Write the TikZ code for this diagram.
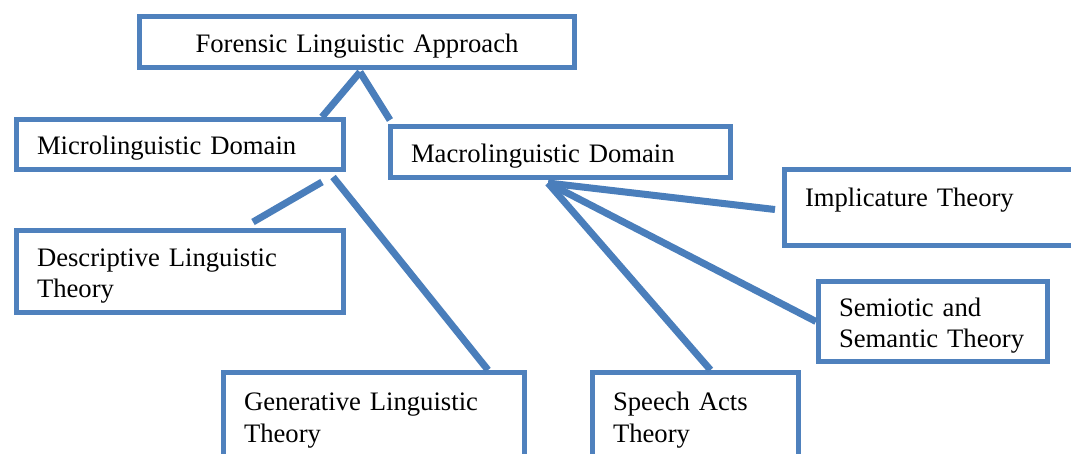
\documentclass[tikz,border=0pt]{standalone}
\usepackage{fontspec}
\setmainfont{Liberation Serif}
\usepackage{tikz}
\usetikzlibrary{positioning, calc}
\definecolor{boxcolor}{RGB}{79,129,189}
\definecolor{linkcolor}{RGB}{74,126,187}
\newcommand{\pxu}{0.45pt}

\begin{document}
\begin{tikzpicture}[
    x=0.45pt, y=-0.45pt,
    box/.style 2 args={draw=boxcolor, line width=5*\pxu, fill=white, anchor=north west,
        minimum width=#1*\pxu, minimum height=#2*\pxu, text width=(#1-41)*\pxu,
        text height=12pt, align=left, font=\fontsize{12}{14}\selectfont},
    link/.style={draw=linkcolor, line width=7*\pxu}
]
    \clip (0,0) rectangle (1071,453);

    \node[box={435}{51}, align=center] (fla) at (137,14) {Forensic Linguistic Approach};
    \node[box={327}{50}] (micro) at (14,117) {Microlinguistic Domain};
    \node[box={340}{51}] (macro) at (388,124) {Macrolinguistic Domain};
    \node[box={327}{82}] (desc) at (14,228) {Descriptive Linguistic\\Theory};
    \node[box={301}{87}] (gen) at (221,370) {Generative Linguistic\\Theory};
    \node[box={206}{87}] (speech) at (590,370) {Speech Acts\\Theory};
    \node[box={291}{76}, text depth=13pt] (impl) at (782,167) {Implicature Theory};
    \node[box={229}{80}] (semi) at (816,279) {Semiotic and\\Semantic Theory};

    \draw[link] ($(fla.south)+(3,2)$) -- ($(micro.north east)+(-24,0)$);
    \draw[link] ($(fla.south)+(3,2)$) -- ($(macro.north west)+(2,-4)$);
    \draw[link] ($(micro.south east)+(-24,10)$) -- ($(desc.north east)+(-93,-6)$);
    \draw[link] ($(micro.south east)+(-13,5)$) -- ($(gen.north east)+(-39,0)$);
    \draw[link] ($(macro.south west)+(160,3)$) -- ($(impl.west)+(-7,2)$);
    \draw[link] ($(macro.south west)+(160,3)$) -- (semi.west);
    \draw[link] ($(macro.south west)+(160,3)$) -- ($(speech.north)+(15,0)$);
\end{tikzpicture}
\end{document}
